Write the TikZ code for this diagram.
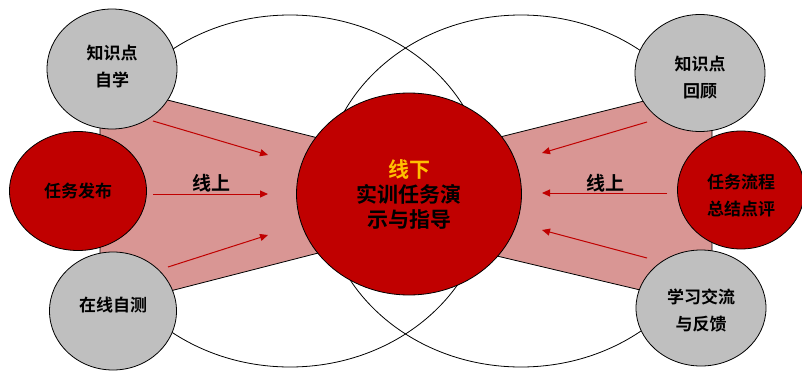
\documentclass[tikz,border=0pt]{standalone}
\usepackage{fontspec}
\newfontfamily\cjk{Noto Sans CJK SC}[BoldFont={Noto Sans CJK SC Bold}]
\usetikzlibrary{shapes.geometric,arrows.meta}
\definecolor{dred}{HTML}{C00000}
\definecolor{pinkf}{HTML}{D99694}
\definecolor{grayf}{HTML}{BFBFBF}
\definecolor{gold}{HTML}{FFC000}
\begin{document}
\begin{tikzpicture}[x=1pt,y=-1pt,
  outl/.style={draw=black,line width=0.8pt},
  bigell/.style={ellipse,outl,fill=none,inner sep=0pt,minimum width=396pt,minimum height=352pt},
  bub/.style={ellipse,outl,inner sep=0pt},
  graybub/.style={bub,fill=grayf},
  redbub/.style={bub,fill=dred},
  btxt/.style={align=center,inner sep=0pt,font=\cjk\bfseries\fontsize{17}{27}\selectfont},
  band/.style={outl,fill=pinkf},
  arr/.style={draw=dred,line width=1pt,-{Triangle[length=8pt,width=7pt]}},
  lbl/.style={font=\cjk\bfseries\fontsize{19}{22}\selectfont,inner sep=0pt}]
\useasboundingbox (0,0) rectangle (802,372);
\fill[white] (0,0) rectangle (802,372);
\clip (0,0) rectangle (802,372);
% large outline ellipses
\node[bigell] (EL) at (290,191) {};
\node[bigell] (ER) at (521,191) {};
% bands
\draw[band] (100,83) -- (330,141) -- (330,250) -- (100,309) -- cycle;
\draw[band] (480,142) -- (712,84) -- (712,307) -- (480,252) -- cycle;
% bubbles
\node[graybub,minimum width=130pt,minimum height=120pt] (ks) at (112,69) {};
\node[redbub,minimum width=137pt,minimum height=119pt] (rw) at (78,191) {};
\node[graybub,minimum width=127pt,minimum height=118pt] (zx) at (113,311) {};
\node[graybub,minimum width=130pt,minimum height=117pt] (kh) at (700,73) {};
\node[redbub,minimum width=127pt,minimum height=118pt] (zj) at (741,190) {};
\node[graybub,minimum width=130pt,minimum height=116pt] (xx) at (701,308) {};
\node[btxt] (kst) at ([yshift=2pt]ks.center) {知识点\\自学};
\node[btxt] (rwt) at (rw.center) {任务发布};
\node[btxt] (zxt) at ([yshift=6pt]zx.center) {在线自测};
\node[btxt] (kht) at ([yshift=-5pt]kh.center) {知识点\\回顾};
\node[btxt] (zjt) at ([yshift=-6pt]zj.center) {任务流程\\总结点评};
\node[btxt] (xxt) at ([yshift=-2pt]xx.center) {学习交流\\与反馈};
% centre
\node[ellipse,outl,fill=dred,inner sep=0pt,minimum width=225pt,minimum height=202pt,align=center,
  font=\cjk\bfseries\fontsize{21}{25}\selectfont] (c) at (409,194) {{\color{gold}线下}\\实训任务演\\示与指导};
% arrows
\coordinate (l1s) at (153,121); \coordinate (l1e) at (268,155);
\coordinate (l2s) at (153,194); \coordinate (l2e) at (268,194);
\coordinate (l3s) at (168,267); \coordinate (l3e) at (268,235);
\coordinate (r1s) at (647,122); \coordinate (r1e) at (542,153);
\coordinate (r2s) at (667,193); \coordinate (r2e) at (542,193);
\coordinate (r3s) at (647,258); \coordinate (r3e) at (542,230);
\draw[arr] (l1s) -- (l1e);
\draw[arr] (l2s) -- (l2e);
\draw[arr] (l3s) -- (l3e);
\draw[arr] (r1s) -- (r1e);
\draw[arr] (r2s) -- (r2e);
\draw[arr] (r3s) -- (r3e);
\node[lbl] (ll) at (211,183) {线上};
\node[lbl] (rl) at (605,183) {线上};
\end{tikzpicture}
\end{document}
